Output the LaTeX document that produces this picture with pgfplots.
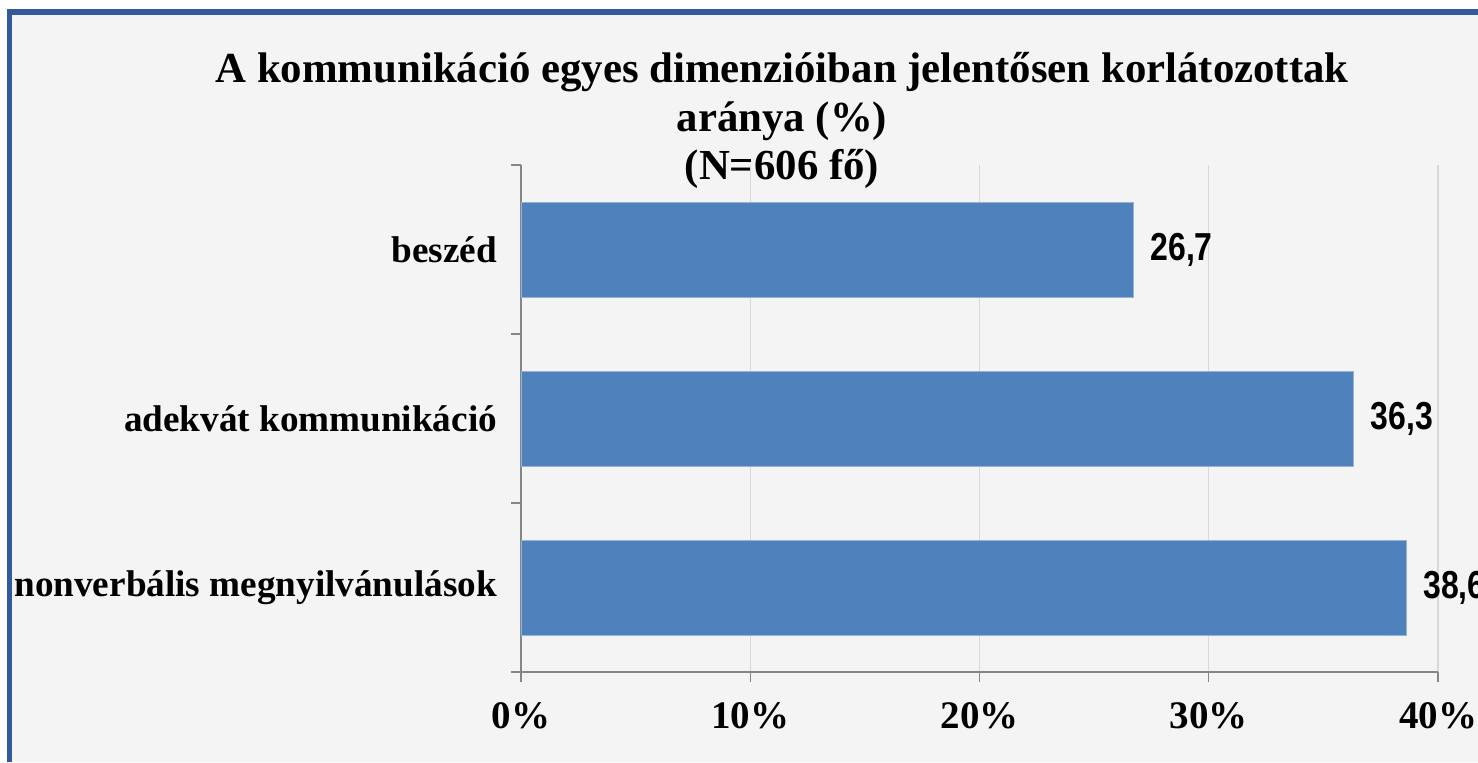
\documentclass[border=0pt]{standalone}
\usepackage{fontspec}
\setmainfont{Liberation Serif}
\newfontfamily\narrow[FakeStretch=0.82]{Liberation Sans}
\usepackage{pgfplots}
\pgfplotsset{compat=1.18}
\usepackage{pgfplotstable}
\definecolor{barblue}{HTML}{4F81BD}
\definecolor{bgc}{HTML}{F4F4F4}
\definecolor{frameblue}{HTML}{335A9B}
\definecolor{gridgray}{HTML}{D9D9D9}
\definecolor{axisgray}{HTML}{868686}
\pgfplotstableread{
y x label
0 38.6 38,6
1 36.3 36,3
2 26.7 26,7
}\datatable
\begin{document}
\begin{tikzpicture}
\useasboundingbox (0,0) rectangle (739pt,381pt);
\fill[white] (0,0) rectangle (739pt,381pt);
\fill[bgc] (6pt,0) rectangle (739pt,373.5pt);
\fill[frameblue] (3.5pt,0) rectangle (6pt,376.5pt);
\fill[frameblue] (3.5pt,373.5pt) rectangle (739pt,376.5pt);
\node[anchor=base, font=\bfseries\fontsize{21.4}{24}\selectfont, inner sep=0pt] at (391pt,339.5pt) {A kommunikáció egyes dimenzióiban jelentősen korlátozottak};
\node[anchor=base, font=\bfseries\fontsize{21.4}{24}\selectfont, inner sep=0pt] at (391pt,315pt) {aránya (\%)};
\node[anchor=base, font=\bfseries\fontsize{21.4}{24}\selectfont, inner sep=0pt] at (391pt,291pt) {(N=606 fő)};
\begin{axis}[
  at={(260.5pt,45pt)}, anchor=south west,
  scale only axis, width=458.5pt, height=253.5pt,
  xbar, bar width=47.5pt,
  xmin=0, xmax=40, ymin=-0.5, ymax=2.5,
  axis lines*=left,
  axis line style={draw=axisgray, line width=0.6pt},
  tick align=outside, major tick length=5pt,
  tick style={draw=axisgray, line width=0.6pt},
  xtick={0,10,20,30,40},
  xticklabel={\pgfmathprintnumber{\tick}\%},
  xticklabel style={font=\bfseries\fontsize{19.5}{24}\selectfont, anchor=base, inner sep=0pt, yshift=-23pt},
  xmajorgrids, grid style={draw=gridgray, line width=0.6pt},
  ytick={-0.5,0.5,1.5,2.5}, yticklabels={},
  extra y ticks={0,1,2},
  extra y tick labels={nonverbális megnyilvánulások, adekvát kommunikáció, beszéd},
  extra y tick style={major tick length=0pt, yticklabel style={font=\bfseries\fontsize{18.6}{22}\selectfont, anchor=east, inner sep=0pt, xshift=-11.75pt}},
  /pgf/number format/assume math mode=true,
  point meta=explicit symbolic,
  nodes near coords,
  every node near coord/.append style={font=\narrow\bfseries\fontsize{19.5}{22}\selectfont, anchor=west, inner sep=0pt, xshift=8.5pt, text=black},
  clip=false,
]
\addplot[fill=barblue, draw=barblue!60!white, line width=0.4pt] table[x=x, y=y, meta=label] {\datatable};
\end{axis}
\end{tikzpicture}
\end{document}
